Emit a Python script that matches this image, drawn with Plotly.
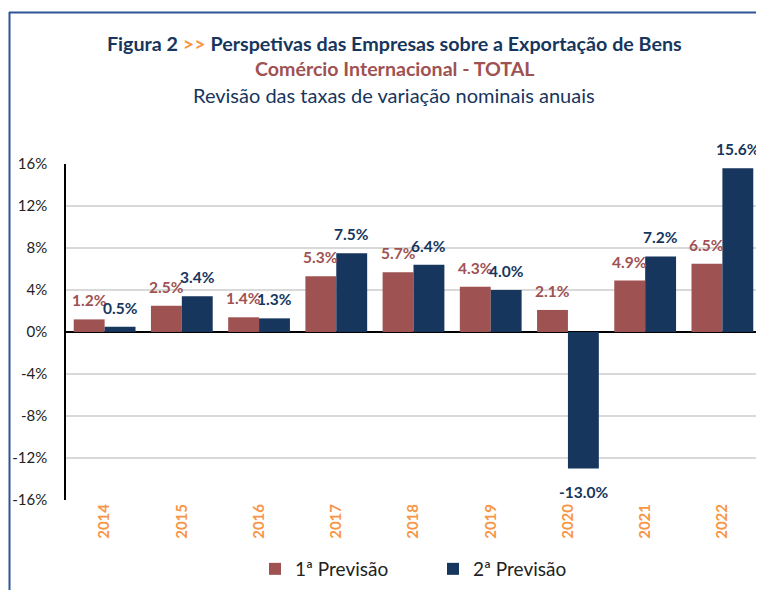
import plotly.graph_objects as go

anos = ["2014", "2015", "2016", "2017", "2018", "2019", "2020", "2021", "2022"]
previsao_1 = [1.2, 2.5, 1.4, 5.3, 5.7, 4.3, 2.1, 4.9, 6.5]
previsao_2 = [0.5, 3.4, 1.3, 7.5, 6.4, 4.0, -13.0, 7.2, 15.6]
ticks_y = [-16, -12, -8, -4, 0, 4, 8, 12, 16]

VERMELHO = "#9E5252"
AZUL = "#17365D"
LARANJA = "#F79646"
FONTE = "Lato, 'Open Sans', sans-serif"

# a página tem 8px de margem no body: a figura fica deslocada (8, 8)
DESVIO = 8
W, H = 764 - DESVIO, 590 - DESVIO
ML, MR, MT, MB = 66 - DESVIO, 3, 164 - DESVIO, 90
PW = W - ML - MR
PH = H - MT - MB


def px_x(p):
    # p em pixels da janela
    return (p - DESVIO - ML) / PW


def px_y(p):
    return (H - MB - (p - DESVIO)) / PH


fig = go.Figure()
fig.add_bar(x=anos, y=previsao_1, name="1ª Previsão", marker_color=VERMELHO,
            marker_line_width=0)
fig.add_bar(x=anos, y=previsao_2, name="2ª Previsão", marker_color=AZUL,
            marker_line_width=0)

# rótulos de dados (x = índice da categoria, porque os anos parecem números)
meia_barra = PW / len(anos) * 0.8 / 4
anotacoes = []
for serie, cor, lado in [(previsao_1, VERMELHO, -1), (previsao_2, AZUL, 1)]:
    for i, v in enumerate(serie):
        anotacoes.append(dict(
            x=i, y=v, xref="x", yref="y", text=f"<b>{v:.1f}%</b>",
            showarrow=False, xshift=lado * meia_barra,
            yshift=19 if v >= 0 else -23,
            font=dict(family=FONTE, size=15.5, color=cor),
        ))

titulo = (
    f"<b><span style='color:{AZUL}'>Figura 2 </span>"
    f"<span style='color:{LARANJA}'>&gt;&gt;</span>"
    f"<span style='color:{AZUL}'> Perspetivas das Empresas sobre a Exportação de Bens</span></b>"
)
for texto, y, tam, cor in [
    (titulo, 44, 19.7, AZUL),
    ("<b>Comércio Internacional - TOTAL</b>", 69, 19.6, VERMELHO),
    ("Revisão das taxas de variação nominais anuais", 95, 20, AZUL),
]:
    anotacoes.append(dict(
        text=texto, xref="paper", yref="paper", showarrow=False,
        x=px_x(394), y=px_y(y), xanchor="center", yanchor="middle",
        font=dict(family=FONTE, size=tam, color=cor),
    ))

fig.update_layout(
    width=W, height=H,
    margin=dict(l=ML, r=MR, t=MT, b=MB, autoexpand=False),
    paper_bgcolor="white", plot_bgcolor="white",
    barmode="group", bargap=0.2, bargroupgap=0,
    font=dict(family=FONTE, color="#222222"),
    annotations=anotacoes,
    showlegend=True,
    legend=dict(orientation="h", x=px_x(255), xanchor="left", y=px_y(569),
                yanchor="middle", font=dict(size=19, color="#222222"),
                itemwidth=30, entrywidth=133, traceorder="normal"),
    shapes=[
        dict(type="line", xref="paper", yref="paper", x0=px_x(9), x1=px_x(770),
             y0=px_y(12.5), y1=px_y(12.5), line=dict(color="#2F5597", width=2)),
        dict(type="line", xref="paper", yref="paper", x0=px_x(9.5), x1=px_x(9.5),
             y0=px_y(12), y1=px_y(600), line=dict(color="#2F5597", width=2)),
    ],
)
fig.update_yaxes(
    range=[-16, 16], tickvals=ticks_y, ticktext=[f"{t}%" for t in ticks_y],
    showgrid=True, gridcolor="#D9D9D9", gridwidth=1.5,
    zeroline=True, zerolinecolor="black", zerolinewidth=2,
    showline=True, linecolor="black", linewidth=1.5,
    tickfont=dict(size=15, color="#222222"), ticks="", ticklabelstandoff=14,
    automargin=False,
)
fig.update_xaxes(
    type="category", range=[-0.5, len(anos) - 0.5], tickangle=-90,
    tickfont=dict(size=15, color=LARANJA, family=FONTE),
    tickvals=anos, ticktext=[f"<b>{a}</b>" for a in anos],
    showline=False, ticks="", automargin=False,
)

fig.write_html("out.html")
